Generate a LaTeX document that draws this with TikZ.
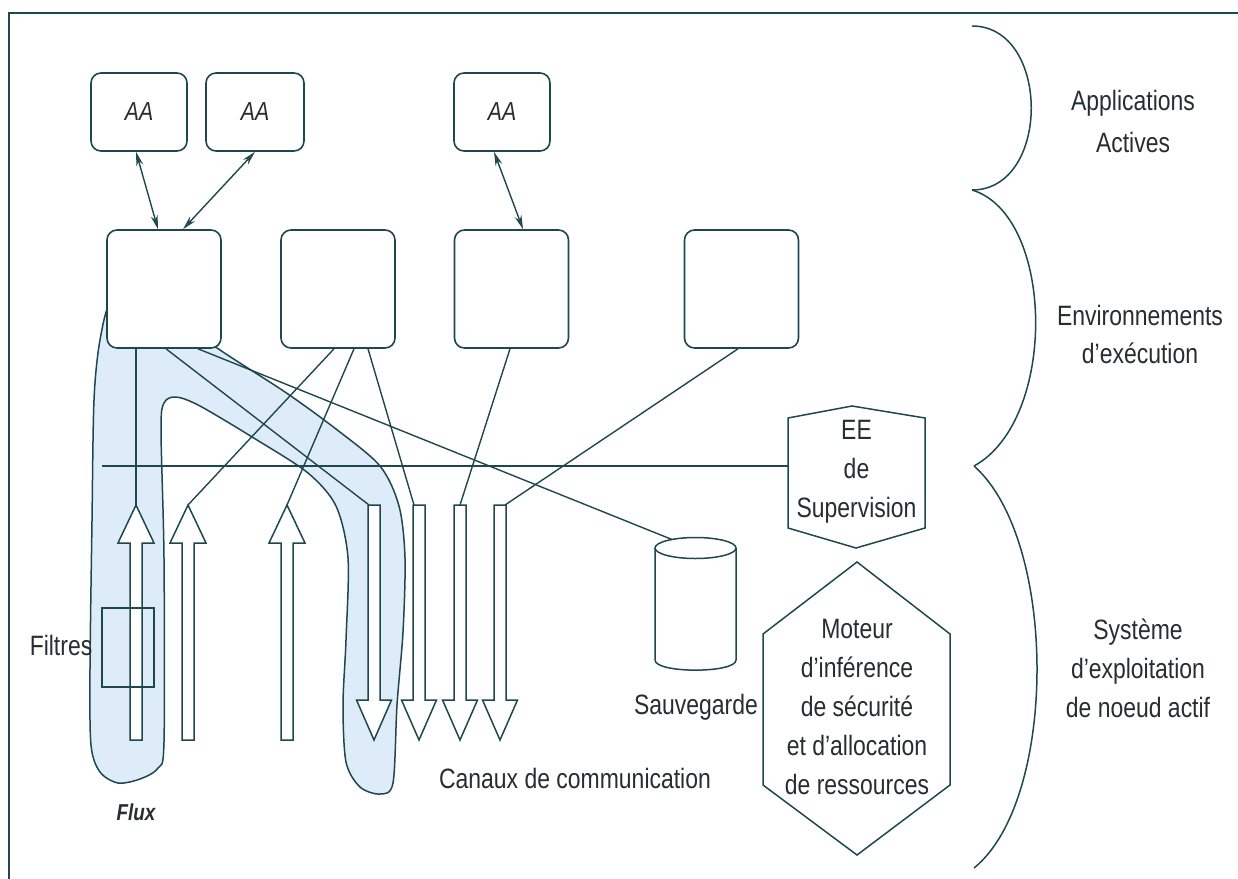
\documentclass[tikz,border=0pt]{standalone}
\usepackage{fontspec}
\setmainfont{Liberation Sans}[FakeStretch=0.82]
\usetikzlibrary{arrows.meta,calc}
\definecolor{ln}{RGB}{30,72,78}
\definecolor{tx}{RGB}{38,46,48}
\definecolor{fluxc}{RGB}{221,236,248}
\tikzset{
  lbl/.style={text=tx, font=\fontsize{28}{39}\selectfont, align=center, inner sep=0pt},
  rbox/.style={draw=ln, line width=1.6pt, rounded corners=10pt, fill=white, inner sep=0pt},
  conn/.style={draw=ln, line width=1.4pt},
  dbl/.style={conn, {Stealth[open,length=14pt,width=7pt]}-{Stealth[open,length=14pt,width=7pt]}},
  blk/.style={draw=ln, line width=1.5pt, fill=white, line join=miter},
  shp/.style={draw=ln, line width=1.5pt},
  uparrowpic/.pic={\path[blk] (-6,235) -- (-6,38) -- (-18,38) -- (0,0) -- (18,38) -- (6,38) -- (6,235) -- cycle;},
  downarrowpic/.pic={\path[blk] (-6,0) -- (-6,195) -- (-17.5,195) -- (0,235) -- (17.5,195) -- (6,195) -- (6,0) -- cycle;},
}
\begin{document}
\begin{tikzpicture}[x=1pt,y=-1pt]
\useasboundingbox (0,0) rectangle (1238,878);
% frame (top and left edges)
\draw[ln, line width=2pt] (1240,13) -- (9,13) -- (9,880);

% flux region
\filldraw[fill=fluxc, draw=ln, line width=1.5pt] plot[smooth cycle] coordinates {
 (112,300) (100,340) (94,400) (92,521) (90,669) (91,745) (100,772) (118,783) (140,779) (158,768)
 (164,742) (164,558) (161,430) (164,403) (176,397) (200,406) (257,440) (308,473) (336,506)
 (348,558) (346,640) (343,705) (346,762) (360,787) (380,794) (393,783) (397,705) (403,632)
 (405,558) (399,506) (380,466) (336,429) (285,392) (213,345) (190,320) (140,310)};

% AA boxes
\node[rbox, minimum width=96pt, minimum height=78pt, lbl, font=\fontsize{26}{30}\selectfont\itshape] (aa1) at (139,112) {AA};
\node[rbox, minimum width=98pt, minimum height=78pt, lbl, font=\fontsize{26}{30}\selectfont\itshape] (aa2) at (255,112) {AA};
\node[rbox, minimum width=96pt, minimum height=78pt, lbl, font=\fontsize{26}{30}\selectfont\itshape] (aa3) at (502,112) {AA};

% EE boxes
\node[rbox, minimum width=114pt, minimum height=118pt] (ee1) at (164,289) {};
\node[rbox, minimum width=114pt, minimum height=118pt] (ee2) at (338,289) {};
\node[rbox, minimum width=114pt, minimum height=118pt] (ee3) at (511.5,289) {};
\node[rbox, minimum width=114pt, minimum height=118pt] (ee4) at (741.5,289) {};

% arrow tip coordinates
\coordinate (tA) at (136,505);
\coordinate (tB) at (188,505);
\coordinate (tC) at (287,505);
\coordinate (tD1) at (374,505);
\coordinate (tD2) at (419,505);
\coordinate (tD3) at (460,505);
\coordinate (tD4) at (500,505);
\coordinate (hl) at (102,466);
\coordinate (sauv) at (672,539.5);

% supervision EE
\node[lbl, minimum width=137pt, minimum height=112pt] (sup) at (856.5,472) {EE\\de\\Supervision};
\draw[shp] (788,418) -- (852,406) -- (925,418) -- (925,528) -- (856,548) -- (788,528) -- cycle;

% hexagon
\node[lbl] (mot) at (857,707) {Moteur\\d’inférence\\de sécurité\\et d’allocation\\de ressources};
\draw[shp] (857,562) -- (950,634) -- (950,785) -- (857,855) -- (763,785) -- (763,634) -- cycle;

% cylinder
\draw[shp] (655,548) -- (655,660) .. controls (655,673.5) and (736,673.5) .. (736,660) -- (736,548);
\draw[shp] (695.5,548) ellipse [x radius=40.5, y radius=10.5];
\node[lbl] (sauvlbl) at (696,707) {Sauvegarde};

% double arrows AA <-> EE
\draw[dbl] ([xshift=-3pt]aa1.south) -- ([xshift=-6pt]ee1.north);
\draw[dbl] (aa2.south) -- ([xshift=19pt]ee1.north);
\draw[dbl] ([xshift=-8pt]aa3.south) -- ([xshift=11.5pt]ee3.north);

% connectors from EE
\draw[conn] ([xshift=-28pt]ee1.south) -- (tA);
\draw[conn] ([xshift=2pt]ee1.south) -- ([xshift=-5pt]tD1);
\draw[conn] ([xshift=34pt]ee1.south) -- (sauv);
\draw[conn] ([xshift=-4pt]ee2.south) -- (tB);
\draw[conn] ([xshift=16pt]ee2.south) -- (tC);
\draw[conn] ([xshift=30pt]ee2.south) -- ([xshift=-5pt]tD2);
\draw[conn] ([xshift=-1.5pt]ee3.south) -- (tD3);
\draw[conn] ([xshift=-3.5pt]ee4.south) -- ([xshift=5pt]tD4);
\draw[conn] (hl) -- (hl -| sup.west);

% block arrows
\pic at (tA) {uparrowpic};
\pic at (tB) {uparrowpic};
\pic at (tC) {uparrowpic};
\pic at (tD1) {downarrowpic};
\pic at (tD2) {downarrowpic};
\pic at (tD3) {downarrowpic};
\pic at (tD4) {downarrowpic};

% filter
\node[draw=ln, line width=1.5pt, minimum width=52pt, minimum height=79pt, inner sep=0pt] (filt) at (128,647.5) {};
\node[lbl] (filtlbl) at (61,645) {Filtres};
\node[lbl, font=\fontsize{23}{28}\selectfont\bfseries\itshape] (flux) at (136,812) {Flux};
\node[lbl] (canaux) at (575,778) {Canaux de communication};

% braces
\draw[shp] (972,26) .. controls (1051,26) and (1051,190) .. (972,190);
\draw[shp] (972,190) .. controls (1055,215) and (1058,420) .. (974,466);
\draw[shp] (974,466) .. controls (1058,540) and (1058,800) .. (974,868);

% right labels
\node[lbl, font=\fontsize{28}{42}\selectfont] (lapp) at (1133,121) {Applications\\Actives};
\node[lbl, font=\fontsize{28}{38}\selectfont] (lenv) at (1140,334) {Environnements\\d’exécution};
\node[lbl] (lsys) at (1138,668) {Système\\d’exploitation\\de noeud actif};
\end{tikzpicture}
\end{document}
